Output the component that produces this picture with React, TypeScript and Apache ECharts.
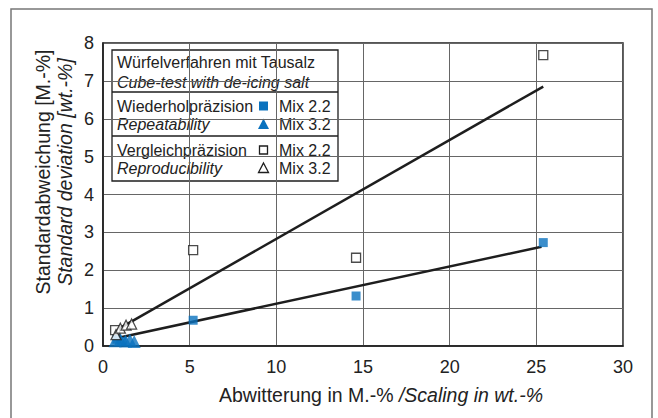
import React, { useEffect, useRef } from "react";
import * as echarts from "echarts";

const xTicks = [0, 5, 10, 15, 20, 25, 30];
const yTicks = [0, 1, 2, 3, 4, 5, 6, 7, 8];

const repMix22: number[][] = [[0.8, 0.18], [1.1, 0.12], [5.2, 0.68], [14.6, 1.32], [25.4, 2.73]];
const repMix32: number[][] = [[0.7, 0.14], [1.0, 0.17], [1.3, 0.13], [1.55, 0.16], [1.8, 0.12]];
const reprodMix22: number[][] = [[0.7, 0.42], [5.2, 2.53], [14.6, 2.33], [25.4, 7.68]];
const reprodMix32: number[][] = [[0.75, 0.3], [1.0, 0.47], [1.33, 0.55], [1.65, 0.58]];
const fitRepeat: number[][] = [[0.9, 0.22], [25.3, 2.62]];
const fitReprod: number[][] = [[0.85, 0.44], [25.4, 6.85]];

const FONT = "'Liberation Sans', Arial, Helvetica, sans-serif";
const BLUE = "#0a72be";
const DARK = "#1e1e1e";

export default function App() {
  const ref = useRef<HTMLDivElement>(null);
  useEffect(() => {
    if (!ref.current) return;
    document.body.style.margin = "0";
    const chart = echarts.init(ref.current, undefined, { renderer: "svg" });
    const openStyle = { color: "#fff", borderColor: DARK, borderWidth: 1.3 };
    chart.setOption({
      animation: false,
      backgroundColor: "#fff",
      textStyle: { fontFamily: FONT },
      grid: { left: 103, right: 35, top: 43, bottom: 72, show: true, borderColor: DARK, borderWidth: 1.5, backgroundColor: "transparent" },
      xAxis: {
        type: "value",
        min: xTicks[0],
        max: xTicks[xTicks.length - 1],
        interval: 5,
        axisLine: { show: true, lineStyle: { color: DARK, width: 1.5 } },
        axisTick: { show: false },
        splitLine: { show: true, lineStyle: { color: "#666", width: 1 } },
        axisLabel: { color: "#222", fontSize: 18, margin: 12, fontFamily: FONT },
      },
      yAxis: {
        type: "value",
        min: yTicks[0],
        max: yTicks[yTicks.length - 1],
        interval: 1,
        axisLine: { show: true, lineStyle: { color: DARK, width: 1.5 } },
        axisTick: { show: false },
        splitLine: { show: true, lineStyle: { color: "#666", width: 1 } },
        axisLabel: { color: "#222", fontSize: 18, margin: 9, fontFamily: FONT },
      },
      series: [
        { type: "line", data: fitReprod, symbol: "none", lineStyle: { color: DARK, width: 2.5 }, z: 2 },
        { type: "line", data: fitRepeat, symbol: "none", lineStyle: { color: DARK, width: 2.5 }, z: 2 },
        { type: "scatter", data: repMix32, symbol: "triangle", symbolSize: 13, itemStyle: { color: BLUE }, z: 3 },
        { type: "scatter", data: repMix22, symbol: "rect", symbolSize: 9, itemStyle: { color: BLUE }, z: 3 },
        { type: "scatter", data: reprodMix22, symbol: "rect", symbolSize: 9, itemStyle: openStyle, z: 4 },
        { type: "scatter", data: reprodMix32, symbol: "triangle", symbolSize: 10, itemStyle: openStyle, z: 4 },
      ],
      graphic: [
        {
          type: "rect",
          shape: { x: 11, y: 9, width: 641, height: 420 },
          style: { fill: "none", stroke: "#777", lineWidth: 1.5 },
          z: 0,
          silent: true,
        },
        {
          type: "text",
          x: 381,
          y: 395,
          style: {
            text: "{r|Abwitterung in M.-% }{i|/Scaling in wt.-%}",
            align: "center",
            verticalAlign: "middle",
            rich: {
              r: { fontSize: 19.5, fontFamily: FONT, fill: "#222" },
              i: { fontSize: 19.5, fontFamily: FONT, fontStyle: "italic", fill: "#222" },
            },
          },
        },
        {
          type: "text",
          x: 43,
          y: 172,
          rotation: Math.PI / 2,
          style: {
            text: "Standardabweichung [M.-%]",
            align: "center",
            verticalAlign: "middle",
            fontSize: 19.5,
            fontFamily: FONT,
            fill: "#222",
          },
        },
        {
          type: "text",
          x: 65,
          y: 172,
          rotation: Math.PI / 2,
          style: {
            text: "Standard deviation [wt.-%]",
            align: "center",
            verticalAlign: "middle",
            fontSize: 19.5,
            fontFamily: FONT,
            fontStyle: "italic",
            fill: "#222",
          },
        },
        {
          type: "group",
          z: 10,
          children: [
            {
              type: "rect",
              shape: { x: 112, y: 50, width: 226, height: 131 },
              style: { fill: "#fff", stroke: DARK, lineWidth: 1.3 },
            },
            { type: "line", shape: { x1: 112, y1: 92, x2: 338, y2: 92 }, style: { stroke: DARK, lineWidth: 1.3 } },
            { type: "line", shape: { x1: 112, y1: 136, x2: 338, y2: 136 }, style: { stroke: DARK, lineWidth: 1.3 } },
            ...[
              ["Würfelverfahren mit Tausalz", 62, false],
              ["Cube-test with de-icing salt", 82, true],
              ["Wiederholpräzision", 106, false],
              ["Repeatability", 124, true],
              ["Vergleichpräzision", 150, false],
              ["Reproducibility", 168, true],
            ].map(([t, y, it]) => ({
              type: "text",
              x: 117,
              y: y as number,
              style: {
                text: t as string,
                verticalAlign: "middle",
                fontSize: 16,
                fontFamily: FONT,
                fontStyle: it ? "italic" : "normal",
                fill: "#222",
              },
            })),
            ...[["Mix 2.2", 106], ["Mix 3.2", 124], ["Mix 2.2", 150], ["Mix 3.2", 168]].map(([t, y]) => ({
              type: "text",
              x: 279,
              y: y as number,
              style: {
                text: t as string,
                verticalAlign: "middle",
                fontSize: 16,
                fontFamily: FONT,
                fill: "#222",
              },
            })),
            { type: "rect", shape: { x: 259, y: 101.5, width: 9, height: 9 }, style: { fill: BLUE } },
            { type: "polygon", shape: { points: [[263.5, 118.5], [269, 129], [258, 129]] }, style: { fill: BLUE } },
            { type: "rect", shape: { x: 259.5, y: 146, width: 8, height: 8 }, style: { fill: "#fff", stroke: DARK, lineWidth: 1.3 } },
            { type: "polygon", shape: { points: [[263.5, 163], [268.5, 172.5], [258.5, 172.5]] }, style: { fill: "#fff", stroke: DARK, lineWidth: 1.3 } },
          ],
        },
      ],
    });
    return () => chart.dispose();
  }, []);
  return <div ref={ref} style={{ position: "absolute", left: 0, top: 0, width: 658, height: 418 }} />;
}
